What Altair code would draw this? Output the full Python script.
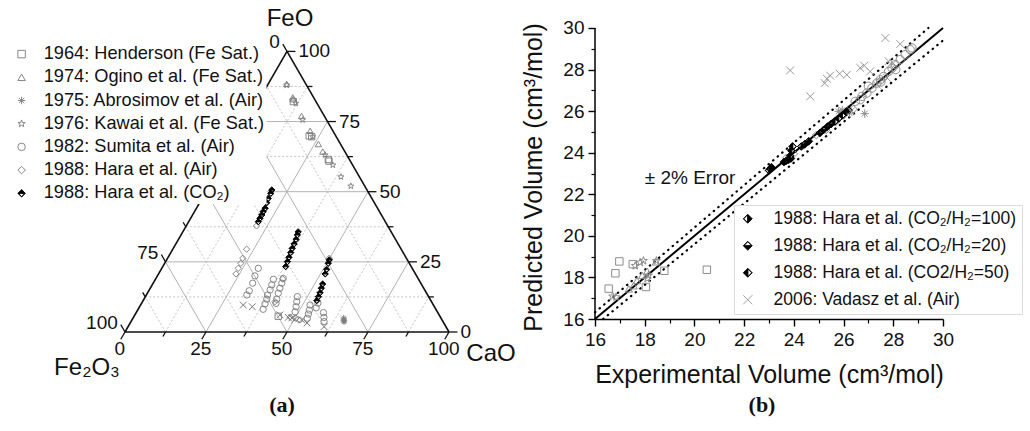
import math
import altair as alt
import pandas as pd

SQ3 = math.sqrt(3) / 2
FONT = "Liberation Sans"
GRAY = "#7a7a7a"
LIGHT = "#8c8c8c"

# ---------------- panel (a): ternary FeO - CaO - Fe2O3 (mass %, Fe2O3 = rest)
hend_feo = [82.1, 69.9, 69.6, 61.5, 60.9, 5.6]
hend_cao = [10.9, 21.9, 22.8, 32.0, 32.5, 44.5]
ogino_feo = [88.4, 83.6, 83.0, 77.0, 71.7, 67.0, 64.3]
ogino_cao = [5.7, 10.0, 10.4, 16.0, 21.3, 26.2, 28.9]
kawai_feo = [88.0, 81.5, 75.6, 69.6, 63.1, 59.5, 55.3, 52.0]
kawai_cao = [5.9, 12.0, 17.0, 23.1, 30.2, 34.4, 39.0, 43.7]
abro_feo = [4.3, 3.6, 5.0, 4.0]
abro_cao = [65.4, 65.8, 65.0, 65.6]
sumita_feo = [22.7, 20.0, 17.4, 14.7, 13.2, 18.8, 16.8, 15.0, 13.2, 11.7, 10.0, 8.1,
              19.1, 17.4, 15.6, 13.8, 11.7, 10.2, 12.6, 10.8, 9.0, 7.2,
              9.6, 7.8, 6.4, 4.9, 6.9, 5.2, 3.7, 8.6, 10.3]
sumita_cao = [29.8, 30.1, 30.7, 31.0, 31.0, 36.4, 36.9, 37.3, 37.4, 37.9, 38.2, 38.6,
              39.3, 39.7, 40.0, 40.4, 41.0, 41.5, 46.9, 47.6, 48.3, 48.9,
              52.3, 53.0, 53.4, 53.8, 57.8, 58.8, 59.6, 54.7, 54.4]
haraair_feo = [29.5, 26.3, 24.5, 22.7, 20.7, 18.9, 10.8, 4.9, 4.3, 5.3, 26.3, 37.8]
haraair_cao = [22.8, 23.2, 23.5, 23.6, 23.9, 39.2, 40.9, 50.3, 51.9, 48.3, 49.9, 21.7]
haraco2_feo = [50.6, 49.4, 47.6, 46.1, 44.1, 42.9, 41.7, 40.5, 39.3,
               35.7, 34.6, 33.0, 31.4, 29.8, 28.3, 26.6, 25.05, 23.3,
               25.7, 24.5, 22.3, 20.7, 17.1, 15.6, 14.0, 12.6, 11.2]
haraco2_cao = [20.0, 20.3, 20.4, 20.7, 21.2, 21.2, 21.35, 21.4, 21.5,
               35.6, 35.9, 36.3, 36.5, 36.7, 37.0, 37.3, 37.6, 37.95,
               50.2, 50.5, 51.1, 51.45, 52.45, 52.8, 53.2, 53.4, 53.6]
vadasz_feo = [9.6, 9.0, 6.1, 5.2, 4.5, 4.3, 3.2, 1.9, 5.0]
vadasz_cao = [31.7, 34.8, 44.8, 47.8, 50.2, 52.4, 54.6, 60.5, 49.0]

series_a = ["1964: Henderson (Fe Sat.)", "1974: Ogino et al. (Fe Sat.)",
            "1975: Abrosimov et al. (Air)", "1976: Kawai et al. (Fe Sat.)",
            "1982: Sumita et al. (Air)", "1988: Hara et al. (Air)",
            "1988: Hara et al. (CO\u2082)"]

grid_major = [25, 50, 75]
grid_minor = [12.5, 37.5, 62.5, 87.5]
tick_values = [0, 12.5, 25, 37.5, 50, 62.5, 75, 87.5, 100]
# Fe2O3 labels 25 and 50 sit under the legend box in the reference
fe2o3_labels_shown = [0, 75, 100]
components = ["FeO", "Fe\u2082O\u2083", "CaO"]

# ---------------- panel (b): experimental vs predicted molar volume
hend_x = [16.55, 16.82, 16.98, 17.52, 18.05, 18.79, 20.5]
hend_y = [17.46, 18.20, 18.77, 18.64, 17.54, 18.32, 18.37]
ogino_x = [17.36, 17.55, 17.69, 17.90, 18.10, 18.45]
ogino_y = [17.45, 17.60, 17.85, 18.10, 18.30, 18.75]
kawai_x = [16.71, 16.85, 17.62, 17.82, 17.95, 18.10, 18.47, 18.15]
kawai_y = [17.09, 17.05, 18.56, 18.72, 18.80, 17.95, 18.80, 18.10]
abro_x = [25.80, 26.24, 26.85, 25.95]
abro_y = [25.99, 25.91, 25.88, 26.05]
sumita_x = [26.47, 26.67, 26.74, 26.94, 27.14, 27.34, 27.48, 27.61, 27.81, 27.95,
            28.08, 28.28, 28.48, 28.68, 28.75, 27.00, 27.50, 28.10]
sumita_y = [26.47, 26.55, 26.71, 26.87, 27.11, 27.35, 27.51, 27.67, 27.91, 28.07,
            28.24, 28.48, 28.72, 28.96, 29.04, 27.20, 27.40, 28.00]
haraair_x = [23.70, 24.00, 24.40, 24.90, 25.30, 25.70, 26.00, 26.40]
haraair_y = [23.75, 23.95, 24.35, 24.85, 25.10, 25.50, 25.80, 26.10]
h100_x = [23.00, 23.05, 23.10, 24.30, 24.45, 24.60]
h100_y = [23.15, 23.22, 23.30, 24.30, 24.42, 24.55]
h20_x = [23.60, 23.68, 23.78, 23.88, 25.05, 25.20, 25.35, 25.50]
h20_y = [23.55, 23.60, 23.65, 23.72, 24.95, 25.10, 25.25, 25.38]
h50_x = [23.90, 23.95, 23.85, 25.65, 25.80, 25.95, 26.10, 26.20]
h50_y = [24.10, 24.30, 23.85, 25.50, 25.65, 25.80, 25.95, 26.05]
vad_x = [23.85, 24.66, 25.24, 25.33, 25.46, 25.84, 26.13, 26.67, 26.83, 27.07,
         27.68, 28.28, 27.81, 27.34, 26.30, 28.00, 27.75]
vad_y = [27.96, 26.71, 27.35, 27.56, 27.71, 27.80, 27.75, 28.08, 28.19, 27.91,
         29.52, 29.23, 28.40, 27.27, 26.00, 28.30, 27.60]
series_b = ["1988: Hara et al. (CO\u2082/H\u2082=100)", "1988: Hara et al. (CO\u2082/H\u2082=20)",
            "1988: Hara et al. (CO2/H\u2082=50)", "2006: Vadasz et al. (Air)"]
vol_range = [16, 30]
vol_major = list(range(16, 31, 2))
vol_minor = list(range(17, 30, 2))
error_frac = 0.02
error_label = ["\u00b1 2% Error"]
error_label_at = [18.0, 22.8]

# ---------------- symbol shapes
STAR = ("M0,-1L0.235,-0.324L0.951,-0.309L0.38,0.124L0.588,0.809L0,0.4L-0.588,0.809"
        "L-0.38,0.124L-0.951,-0.309L-0.235,-0.324Z")
ASTER = "M-1,0L1,0M0,-1L0,1M-0.7,-0.7L0.7,0.7M-0.7,0.7L0.7,-0.7"
XMARK = "M-1,-1L1,1M-1,1L1,-1"
DIA = "M0,-1L1,0L0,1L-1,0Z"
DIA_TOP = DIA + "M-0.82,0.06L0,0.86L0.82,0.06Z"
DIA_BOTTOM = DIA + "M0,-0.86L-0.82,-0.06L0.82,-0.06Z"
DIA_RIGHT = DIA + "M-0.06,-0.86L-0.86,0L-0.06,0.86Z"
DIA_LEFT = DIA + "M0.06,-0.86L0.06,0.86L0.86,0Z"

# =============================== panel (a)
def tern_xy(feo, cao):
    return cao + feo / 2.0, feo * SQ3

pts_a = pd.concat([
    pd.DataFrame({"series": series_a[0], "FeO": hend_feo, "CaO": hend_cao}),
    pd.DataFrame({"series": series_a[1], "FeO": ogino_feo, "CaO": ogino_cao}),
    pd.DataFrame({"series": series_a[2], "FeO": abro_feo, "CaO": abro_cao}),
    pd.DataFrame({"series": series_a[3], "FeO": kawai_feo, "CaO": kawai_cao}),
    pd.DataFrame({"series": series_a[4], "FeO": sumita_feo, "CaO": sumita_cao}),
    pd.DataFrame({"series": series_a[5], "FeO": haraair_feo, "CaO": haraair_cao}),
    pd.DataFrame({"series": series_a[6], "FeO": haraco2_feo, "CaO": haraco2_cao}),
], ignore_index=True)
vad_a = pd.DataFrame({"FeO": vadasz_feo, "CaO": vadasz_cao})

seg_rows = []
for v in grid_major + grid_minor:
    kind = "major" if v in grid_major else "minor"
    for f1, c1, f2, c2 in [(v, 0, v, 100 - v), (0, v, 100 - v, v), (0, 100 - v, 100 - v, 0)]:
        x1, y1 = tern_xy(f1, c1)
        x2, y2 = tern_xy(f2, c2)
        seg_rows.append(dict(kind=kind, x=x1, y=y1, x2=x2, y2=y2))
grid_df = pd.DataFrame(seg_rows)

corners = [(0, 0), (0, 100), (100, 0)]  # (FeO, CaO)
edge_rows = []
for i in range(3):
    x1, y1 = tern_xy(*corners[i])
    x2, y2 = tern_xy(*corners[(i + 1) % 3])
    edge_rows.append(dict(x=x1, y=y1, x2=x2, y2=y2))
edge_df = pd.DataFrame(edge_rows)

edge_dir = {"FeO": (1.0, 0.0), "CaO": (-0.5, -SQ3), "Fe2O3": (-0.5, SQ3)}
def edge_point(edge, v):
    if edge == "FeO":
        return tern_xy(v, 100 - v)
    if edge == "CaO":
        return tern_xy(0, v)
    return tern_xy(100 - v, 0)

tick_rows = []
for edge in ["FeO", "CaO", "Fe2O3"]:
    for v in tick_values:
        major = v % 25 == 0
        x, y = edge_point(edge, v)
        ux, uy = edge_dir[edge]
        L = 2.6 if major else 1.6
        shown = major and (edge != "Fe2O3" or v in fe2o3_labels_shown)
        tick_rows.append(dict(edge=edge, major=major, shown=shown, x=x, y=y,
                              x2=x + ux * L, y2=y + uy * L, label=f"{v:g}"))
tick_df = pd.DataFrame(tick_rows)

vert_df = pd.DataFrame({"name": components,
                        "x": [tern_xy(*c)[0] for c in [(100, 0), (0, 0), (0, 100)]],
                        "y": [tern_xy(*c)[1] for c in [(100, 0), (0, 0), (0, 100)]]})

txs = alt.Scale(domain=[-38.58, 109.57], nice=False, zero=False)
tys = alt.Scale(domain=[-30.56, 102.47], nice=False, zero=False)

def seg_layer(df, **mk):
    return alt.Chart(df).mark_rule(**mk).encode(
        x=alt.X("x:Q", scale=txs, axis=None), y=alt.Y("y:Q", scale=tys, axis=None),
        x2="x2:Q", y2="y2:Q")

grid_solid = seg_layer(grid_df[grid_df.kind == "major"], color="#b3b3b3", strokeWidth=1)
grid_dot = seg_layer(grid_df[grid_df.kind == "minor"], color="#c4c4c4", strokeWidth=1,
                     strokeDash=[2, 2])
edges = seg_layer(edge_df, color="#111111", strokeWidth=1.6)
ticks = seg_layer(tick_df, color="#111111", strokeWidth=1.3)

def tick_text(edge, align, baseline, dx, dy):
    d = tick_df[(tick_df.edge == edge) & tick_df.shown]
    return alt.Chart(d).mark_text(align=align, baseline=baseline, dx=dx, dy=dy,
                                  fontSize=19, font=FONT, color="#111111").encode(
        x=alt.X("x2:Q", scale=txs, axis=None), y=alt.Y("y2:Q", scale=tys, axis=None),
        text="label:N")

lab_r = tick_text("FeO", "left", "middle", 3, 0)
lab_b = tick_text("CaO", "center", "middle", -1, 10)
lab_l = tick_text("Fe2O3", "right", "middle", -3, -2)

def vert_text(name, dx, dy):
    return alt.Chart(vert_df[vert_df.name == name]).mark_text(
        fontSize=24, font=FONT, color="#111111", dx=dx, dy=dy, baseline="middle").encode(
        x=alt.X("x:Q", scale=txs, axis=None), y=alt.Y("y:Q", scale=tys, axis=None),
        text="name:N")

v_feo = vert_text("FeO", 3, -32)
v_fe2o3 = vert_text("Fe\u2082O\u2083", -38, 36)
v_cao = vert_text("CaO", 42, 22)

tern_calc = dict(x="datum.CaO + datum.FeO / 2", y="datum.FeO * 0.8660254")

leg_a = alt.Legend(orient="none", legendX=10.5, legendY=43, title=None, labelFontSize=18.2,
                   symbolSize=56, labelOffset=13, rowPadding=4.2, padding=2,
                   fillColor="white", symbolStrokeWidth=0.9, labelLimit=400, labelFont=FONT,
                   labelColor="#111111")
pts_layer_a = alt.Chart(pts_a).transform_calculate(**tern_calc).mark_point(
    filled=True, opacity=1, size=40, strokeWidth=0.9).encode(
    x=alt.X("x:Q", scale=txs, axis=None), y=alt.Y("y:Q", scale=tys, axis=None),
    shape=alt.Shape("series:N", scale=alt.Scale(
        domain=series_a,
        range=["square", "triangle-up", ASTER, STAR, "circle", "diamond", DIA_TOP]),
        legend=leg_a),
    fill=alt.Fill("series:N", scale=alt.Scale(
        domain=series_a, range=["transparent"] * 6 + ["black"]), legend=leg_a),
    stroke=alt.Stroke("series:N", scale=alt.Scale(
        domain=series_a, range=[GRAY] * 6 + ["black"]), legend=leg_a),
)
vad_layer_a = alt.Chart(vad_a).transform_calculate(**tern_calc).mark_point(
    filled=False, opacity=1, size=45, strokeWidth=1, shape=XMARK, color=GRAY).encode(
    x=alt.X("x:Q", scale=txs, axis=None), y=alt.Y("y:Q", scale=tys, axis=None))

left = alt.layer(grid_dot, grid_solid, edges, ticks, lab_r, lab_b, lab_l,
                 v_feo, v_fe2o3, v_cao, vad_layer_a, pts_layer_a).properties(
    width=480, height=431,
    title=alt.TitleParams("(a)", orient="bottom", frame="group", offset=-26, dx=42,
                          baseline="middle", font="Liberation Serif", fontWeight="bold",
                          fontSize=22, color="#111111"))

# =============================== panel (b)
xs = alt.Scale(domain=vol_range, nice=False, zero=False)
ys = alt.Scale(domain=[10.612, 31.347], nice=False, zero=False)

x_major = alt.Axis(orient="bottom", values=vol_major, tickSize=7, offset=-112,
                   title="Experimental Volume (cm\u00b3/mol)", labelFlush=False, grid=False,
                   labelOverlap=False, domainWidth=1.5, tickWidth=1.4, labelPadding=4,
                   titlePadding=13)
y_major = alt.Axis(orient="left", values=vol_major, tickSize=7, domain=False,
                   title="Predicted Volume (cm\u00b3/mol)", titleX=-49, titleY=177,
                   labelFlush=False, grid=False, labelOverlap=False, tickWidth=1.4,
                   labelPadding=4)
x_minor = alt.Axis(orient="bottom", values=vol_minor, tickSize=4, offset=-112, labels=False,
                   title=None, domain=False, grid=False, tickWidth=1.2)
y_minor = alt.Axis(orient="left", values=vol_minor, tickSize=4, labels=False, title=None,
                   domain=False, grid=False, tickWidth=1.2)

diag = pd.DataFrame({"x": [vol_range[0]], "y": [vol_range[0]],
                     "x2": [vol_range[1]], "y2": [vol_range[1]]})
ideal = alt.Chart(diag).mark_rule(color="black", strokeWidth=2).encode(
    x=alt.X("x:Q", scale=xs, axis=x_major), y=alt.Y("y:Q", scale=ys, axis=y_major),
    x2="x2:Q", y2="y2:Q")

yline = alt.Chart(pd.DataFrame({"x": [vol_range[0]], "y": [vol_range[0]],
                                "y2": [vol_range[1]]})).mark_rule(
    color="black", strokeWidth=1.5).encode(
    x=alt.X("x:Q", scale=xs, axis=x_minor), y=alt.Y("y:Q", scale=ys, axis=y_minor),
    y2="y2:Q")

lo, hi = vol_range
err_df = pd.DataFrame({"x": [lo, lo / (1 - error_frac)],
                       "y": [lo * (1 + error_frac), lo],
                       "x2": [hi / (1 + error_frac), hi],
                       "y2": [hi, hi * (1 - error_frac)]})
err = alt.Chart(err_df).mark_rule(color="black", strokeWidth=2.2, strokeDash=[0.5, 5.5],
                                  strokeCap="round").encode(
    x=alt.X("x:Q", scale=xs, axis=None), y=alt.Y("y:Q", scale=ys, axis=None),
    x2="x2:Q", y2="y2:Q")

err_txt = alt.Chart(pd.DataFrame({"t": error_label, "x": [error_label_at[0]],
                                  "y": [error_label_at[1]]})).mark_text(
    align="left", baseline="middle", fontSize=19, font=FONT, color="#111111").encode(
    x=alt.X("x:Q", scale=xs, axis=None), y=alt.Y("y:Q", scale=ys, axis=None), text="t:N")

def grey_layer(xv, yv, shape, size=60):
    return alt.Chart(pd.DataFrame({"x": xv, "y": yv})).mark_point(
        filled=False, opacity=1, size=size, strokeWidth=1, shape=shape, color=LIGHT).encode(
        x=alt.X("x:Q", scale=xs, axis=None), y=alt.Y("y:Q", scale=ys, axis=None))

g_hend = grey_layer(hend_x, hend_y, "square", 55)
g_ogino = grey_layer(ogino_x, ogino_y, "triangle-up", 55)
g_kawai = grey_layer(kawai_x, kawai_y, STAR, 70)
g_abro = grey_layer(abro_x, abro_y, ASTER, 70)
g_sumita = grey_layer(sumita_x, sumita_y, "circle", 70)
g_hair = grey_layer(haraair_x, haraair_y, "diamond", 60)

pts_b = pd.concat([
    pd.DataFrame({"series": series_b[0], "x": h100_x, "y": h100_y}),
    pd.DataFrame({"series": series_b[1], "x": h20_x, "y": h20_y}),
    pd.DataFrame({"series": series_b[2], "x": h50_x, "y": h50_y}),
    pd.DataFrame({"series": series_b[3], "x": vad_x, "y": vad_y}),
], ignore_index=True)

leg_b = alt.Legend(orient="none", legendX=139, legendY=205, title=None, labelFontSize=17.5,
                   symbolSize=81, labelOffset=17, rowPadding=8, padding=5,
                   fillColor="white", strokeColor="#dcdcdc", symbolStrokeWidth=0.8,
                   labelLimit=400, labelFont=FONT, labelColor="#111111")
pts_layer_b = alt.Chart(pts_b).mark_point(filled=True, opacity=1, size=60,
                                          strokeWidth=0.9).encode(
    x=alt.X("x:Q", scale=xs, axis=None), y=alt.Y("y:Q", scale=ys, axis=None),
    shape=alt.Shape("series:N", scale=alt.Scale(
        domain=series_b, range=[DIA_RIGHT, DIA_BOTTOM, DIA_LEFT, XMARK]), legend=leg_b),
    fill=alt.Fill("series:N", scale=alt.Scale(
        domain=series_b, range=["black", "black", "black", "transparent"]), legend=leg_b),
    stroke=alt.Stroke("series:N", scale=alt.Scale(
        domain=series_b, range=["black", "black", "black", LIGHT]), legend=leg_b),
)

right = alt.layer(ideal, yline, err, err_txt, g_hend, g_ogino, g_kawai, g_abro, g_sumita,
                  g_hair, pts_layer_b).resolve_axis(x="independent", y="independent").properties(
    width=348, height=431,
    title=alt.TitleParams("(b)", orient="bottom", frame="group", offset=-26, dx=-7,
                          baseline="middle", font="Liberation Serif", fontWeight="bold",
                          fontSize=22, color="#111111"))

chart = alt.hconcat(left, right, spacing=115, bounds="flush").resolve_scale(
    shape="independent", fill="independent", stroke="independent"
).properties(padding=0).configure_view(strokeWidth=0).configure_axis(
    labelFont=FONT, titleFont=FONT, labelFontSize=19, titleFontSize=25,
    titleFontWeight="normal", labelColor="#111111", titleColor="#111111",
    tickColor="black", domainColor="black")

chart.save("out.html", embed_options={"renderer": "svg", "actions": False})
